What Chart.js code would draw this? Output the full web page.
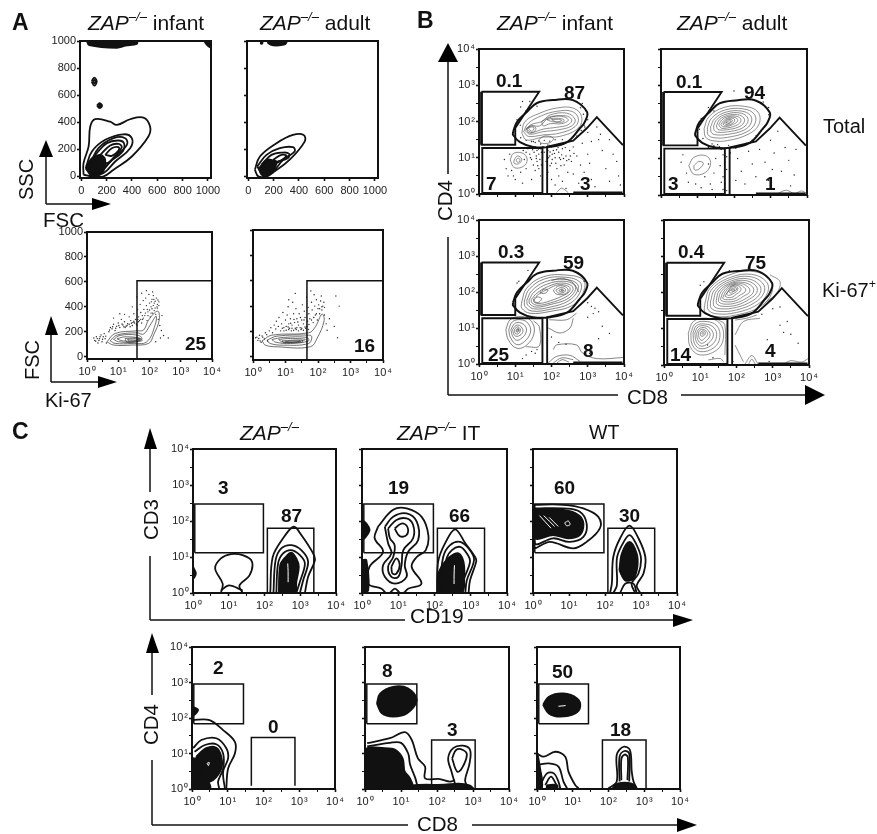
<!DOCTYPE html>
<html>
<head>
  <meta charset="utf-8">
  <title>ZAP flow cytometry panels</title>
  <script src="https://cdn.jsdelivr.net/npm/chart.js"></script>
  <style>
    html, body { margin: 0; padding: 0; background: #fff; }
    body { width: 877px; height: 834px; position: relative; overflow: hidden; font-family: "Liberation Sans", Arial, sans-serif; color: #111; }
    canvas { position: absolute; }
    svg { position: absolute; left: 0; top: 0; }
    .t { position: absolute; line-height: 1em; white-space: nowrap; }
    .t sup { font-size: 0.62em; line-height: 0; position: relative; top: -0.1em; vertical-align: super; }
    .pct { font-weight: bold; }
    .rot { transform-origin: 0 0; transform: rotate(-90deg); }
  </style>
</head>
<body>
  <svg id="arrows" width="877" height="834"></svg>

  <script>
    // axis ticks
    const linTicks = [0, 200, 400, 600, 800, 1000];
    const logMajor = [1, 10, 100, 1000, 10000];
    const logMinor = [3.16, 31.6, 316, 3160];
    const supDigits = ['\u2070', '\u00b9', '\u00b2', '\u00b3', '\u2074'];

    // contours below are flat x,y lists, log axes are written in decades

    // A top, SSC vs FSC
    const a1Rings = [
      [18,12, 18,98, 58,221, 71,368, 110,422, 228,404, 281,380, 386,422, 491,434, 543,368, 530,294, 399,147, 255,49, 176,0, 84,0],
      [39,74, 84,184, 189,270, 333,311, 399,282, 386,208, 268,110, 176,25, 84,12],
      [71,98, 136,208, 255,282, 346,282, 360,233, 255,135, 150,37, 71,37],
      [110,159, 202,245, 294,265, 339,240, 320,176, 228,110, 150,37],
      [150,159, 228,228, 294,240, 320,216, 281,167, 202,98],
      [189,159, 241,208, 294,216, 294,191, 241,152],
      [82,700, 102,730, 122,700, 102,670], [92,700, 102,712, 112,700, 102,688],
      [124,522, 144,540, 164,522, 144,505], [136,522, 144,530, 152,522, 144,514]
    ];
    const a1Fills = [
      [34,61, 84,135, 150,159, 189,123, 163,25, 84,5],
      [45,1000, 438,1000, 438,978, 350,965, 280,950, 62,970],
      [970,1000, 1020,1000, 1020,955, 995,968]
    ];
    const a2Rings = [
      [52,49, 92,147, 223,245, 353,306, 437,306, 445,257, 327,123, 209,37, 144,0, 79,0],
      [71,74, 144,159, 249,208, 353,216, 366,184, 275,123, 196,37, 118,12],
      [105,86, 183,159, 275,176, 322,167, 314,135, 223,98, 170,25],
      [196,123, 262,159, 301,152, 236,110]
    ];
    const a2Fills = [
      [86,61, 144,123, 196,118, 223,98, 183,25, 144,0, 105,12],
      [157,1000, 301,1000, 288,975, 196,968, 157,985],
      [100,1000, 110,1000, 110,980, 100,980]
    ];

    // A bottom, FSC vs Ki-67
    const a3Rings = [
      [.64,120, .9,187, 1.6,208, 1.81,214, 1.97,294, 2.26,366, 2.31,294, 2.13,174, 1.97,107, 1.44,94, .85,94],
      [.74,128, .96,174, 1.6,192, 1.81,182, 2.02,254, 2.21,326, 2.18,254, 1.91,120, 1.44,107, .9,107],
      [.85,139, 1.06,171, 1.6,174, 1.76,147, 1.54,120, 1.01,120],
      [.96,144, 1.22,160, 1.7,147, 1.49,128, 1.12,128],
      [1.22,147, 1.7,147, 1.76,128, 1.28,118],
      [1.3,140, 1.65,142, 1.7,132, 1.35,126]
    ];
    const a3Dots = [.25,130, .3,160, .35,110, .4,145, .45,175, .48,120, .55,185, .6,165, .62,110, .7,200, .72,215, .8,225, .85,260, .9,210, .95,245, 1,270, 1.05,235, 1.1,300, 1.15,255, 1.2,280, 1.22,235, 1.3,265, 1.35,320, 1.38,240, 1.4,290, 1.45,250, 1.5,345, 1.52,270, 1.55,300, 1.6,255, 1.62,380, 1.65,320, 1.68,290, 1.7,420, 1.72,355, 1.75,270, 1.78,300, 1.8,450, 1.82,380, 1.85,330, 1.88,470, 1.9,410, 1.92,290, 1.95,360, 1.98,500, 2,430, 2.02,320, 2.05,400, 2.08,460, 2.1,350, 2.12,490, 2.15,430, 2.18,390, 2.2,340, 2.22,470, 2.25,420, 2.28,300, 2.3,440, 2.33,250, 2.38,210, 2.4,330, 2.45,170, 2.35,150, 2.2,120, 2.6,150, 1.2,340, .85,310, 1.05,345, 1.45,400, 1.6,480, 1.75,510, 1.9,530, 2.1,520, 1.25,245, 1.35,260, 1.5,285, 1.65,280, 1.8,310, 1.95,330, 2.05,350, 2.15,370, 2.25,390,
      .75,235, .82,240, .92,228, 1.02,250, 1.12,262, 1.18,240, 1.28,250, 1.42,268, 1.47,275, 1.58,262, 1.63,300, 1.72,300, 1.77,330, 1.87,350, 1.93,380, 2,375, 2.08,385, 2.12,410, 2.18,445, 2.24,400, 2.27,455, 2.3,410, 2.14,460, 2.06,440, .28,125, .33,145, .38,130, .42,160, .5,140, .52,160, .58,145, .22,150];
    const a4Rings = [
      [.28,126, .58,171, 1.71,189, 1.92,237, 2.12,337, 2.19,287, 1.97,145, 1.76,79, .74,79, .38,92],
      [.43,132, .74,163, 1.71,171, 1.81,158, 1.71,105, .94,92, .53,105],
      [.58,137, .94,153, 1.66,153, 1.71,126, 1.15,105, .69,116],
      [.79,137, 1.15,145, 1.61,137, 1.25,116, .89,118],
      [.89,126, 1.51,132, 1.51,116, .94,113],
      [1,122, 1.45,126, 1.45,118, 1,117]
    ];
    const a4Dots = [.08,150, .15,130, .2,170, .25,115, .3,155, .38,190, .45,125, .5,205, .55,230, .6,190, .65,250, .7,220, .72,280, .78,240, .8,310, .85,205, .88,260, .92,350, .95,230, 1,290, 1.02,240, 1.05,330, 1.08,395, 1.1,260, 1.12,225, 1.15,300, 1.2,250, 1.22,430, 1.25,340, 1.28,270, 1.3,225, 1.32,380, 1.35,300, 1.4,250, 1.42,340, 1.45,230, 1.5,290, 1.52,410, 1.55,260, 1.58,360, 1.6,310, 1.62,225, 1.65,470, 1.68,280, 1.7,390, 1.72,340, 1.75,300, 1.78,520, 1.8,430, 1.82,370, 1.85,270, 1.88,490, 1.9,400, 1.92,330, 1.95,450, 1.98,290, 2,380, 2.02,410, 2.05,340, 2.08,440, 2.1,480, 2.12,370, 2.15,400, 2.18,430, 2.2,330, 2.25,260, 2.28,210, 2.35,300, 2.5,240, 2.6,150, 2.65,400, 2.55,480, 1.1,450, 1.3,500, .9,225, 1.1,215, 1.2,225, 1.35,230, 1.5,225, 1.7,215,
      .95,205, 1.02,210, 1.08,235, 1.18,205, 1.25,210, 1.33,215, 1.4,205, 1.48,215, 1.55,210, 1.6,235, 1.66,240, 1.72,255, 1.8,290, 1.87,310, 1.95,340, 2.05,380, 2.12,395, 2.2,390, .12,155, .18,145, .22,125, .28,165, .35,140, .42,175, 1.16,265, 1.26,295, 1.38,275, 1.46,310, 1.57,290];

    // B, CD4 vs CD8
    const b1Rings = [
      [1.18,1.68, 1.27,2, 1.68,2.23, 2.14,2.37, 2.6,2.37, 2.83,2.14, 2.74,1.82, 2.23,1.59, 1.77,1.57, 1.31,1.49],
      [1.23,1.72, 1.36,1.95, 1.73,2.16, 2.14,2.28, 2.56,2.28, 2.74,2.09, 2.65,1.86, 2.23,1.68, 1.77,1.63, 1.36,1.59],
      [1.27,1.75, 1.43,1.91, 1.73,2, 1.96,2.18, 2.42,2.23, 2.65,2.06, 2.56,1.88, 2.19,1.77, 1.77,1.72, 1.41,1.65],
      [1.31,1.79, 1.45,1.88, 1.68,1.88, 1.91,2.09, 2.37,2.16, 2.56,2.05, 2.46,1.91, 2.14,1.84, 1.77,1.79, 1.45,1.7],
      [1.31,1.82, 1.45,1.88, 1.57,1.82, 1.5,1.7, 1.36,1.7],
      [1.36,1.82, 1.45,1.85, 1.52,1.82, 1.45,1.73],
      [1.73,2, 2,2.14, 2.37,2.12, 2.46,2.03, 2.28,1.94, 1.96,1.94, 1.77,1.88],
      [1.87,2.05, 2.05,2.09, 2.33,2.06, 2.33,1.99, 2.05,1.99],
      [2,2.05, 2.19,2.06, 2.28,2.03, 2.14,1.99],
      [1.64,1.49, 1.82,1.6, 2.05,1.54, 1.96,1.42, 1.73,1.4],
      [.86,.94, .95,1.12, 1.22,1.12, 1.33,.94, 1.22,.76, .97,.73],
      [.97,.94, 1.06,1.05, 1.18,.96, 1.09,.83, .97,.85],
      [1.02,.94, 1.09,.99, 1.13,.92, 1.07,.87]
    ];
    const b1Open = [[2.14,.04, 2.28,.16, 2.46,.04]];
    const b1Dots = [1.55,1.3, 1.6,1.2, 1.65,1.1, 1.7,1.25, 1.75,1, 1.8,1.15, 1.85,.9, 1.9,1.2, 1.95,1.05, 2,.85, 2.05,1.2, 2.1,1, 2.15,.7, 2.2,1.15, 2.25,.95, 2.3,1.25, 2.35,.8, 2.4,1.05, 2.45,.6, 2.5,1.2, 2.55,.9, 2.6,1.3, 2.7,1.05, 2.8,.8, 2.85,1.4, 1.4,1.1, 1.45,.95, 1.5,.8, 1.35,1.25, 1.55,.65, 1.6,.9, 1.65,.7, 1.7,.5, 1.25,.95, .85,1.1, .9,.65, .95,.5, 1.15,.6, 1.3,.7, .7,.95, .75,.7, .8,.5, 1,.4, 1.2,.3, 1.45,.4, 1.9,.6, 2,.4, 2.1,.25, 2.2,.5, 2.3,.35, 2.4,.15, 2.6,.55, 2.75,.3, 2.9,.6, 3,1.1, 3.05,.85, 3.1,.4, 3.2,.2, 3.3,1.5, 3.4,1.2, 3.5,.7, 3.6,.35, 3.7,1.1, 3.85,.5, 3,1.7, 3.1,1.45, 3.25,1.85, 3.35,1.65, 3.6,1.5, 3.8,.9, 3.9,.25, 2.9,1.9, 2.95,2.3, 3,2.05, 2.85,2.5, 2.7,2.55, 1.05,2.05, 1,1.6, 1.15,2.4, 1.3,2.3, 1.2,2.55, 1.4,2.55, 1.45,1.45, 1.9,1.35, 2.2,1.38, 2,1.3, 1.7,1.38, 1.5,1.45, 1.58,1.05, 1.68,.95, 1.72,.8, 1.92,1, 2.02,1.1, 2.12,.85, 2.18,1.28, 2.28,1.08, 2.38,1.28, 2.48,.95, 1.52,1.15, 1.62,.78, 1.78,1.3, 1.88,1.05,
      1.48,1.22, 1.42,1, 1.3,1.15, 1.22,1.2, 1.58,.98, 1.64,1.24, 1.72,1.15, 1.96,1.16, 2.08,1.12, 2.14,1.22, 2.22,1, 2.33,.98, 2.42,.92, 2.52,1.05, 2.62,1.12, 2.02,.95, 1.96,.78, 2.26,.78, 1.75,1.3, 1.85,1.28, 1.95,1.34, 2.1,1.34, 2.3,1.38, 1.55,1.42, 1.65,1.46, 1.8,1.48, 1.95,1.46, 2.1,1.5, 2.3,1.5, 2.7,1.6, 2.82,1.75, 2.92,1.85, 2.88,2.2, 2.8,2.38, 1.3,1.48, 1.15,1.55, 1.4,2.36, 1.6,2.42, 1.14,1.9];
    const b2Rings = [
      [1.18,1.82, 1.31,2.14, 1.73,2.4, 2.28,2.43, 2.65,2.28, 2.69,1.95, 2.42,1.68, 1.82,1.49, 1.41,1.49, 1.22,1.59],
      [1.27,1.84, 1.39,2.11, 1.76,2.33, 2.25,2.36, 2.55,2.22, 2.58,1.97, 2.35,1.73, 1.82,1.58, 1.45,1.57, 1.29,1.65],
      [1.36,1.87, 1.47,2.09, 1.78,2.27, 2.2,2.3, 2.45,2.18, 2.47,1.98, 2.28,1.78, 1.82,1.66, 1.5,1.65, 1.38,1.71],
      [1.44,1.89, 1.53,2.07, 1.8,2.22, 2.15,2.25, 2.36,2.14, 2.37,1.98, 2.2,1.82, 1.82,1.73, 1.55,1.72, 1.46,1.77],
      [1.52,1.9, 1.6,2.06, 1.82,2.18, 2.1,2.2, 2.27,2.11, 2.27,1.98, 2.12,1.86, 1.82,1.79, 1.6,1.78, 1.54,1.82],
      [1.58,1.92, 1.66,2.05, 1.84,2.15, 2.05,2.16, 2.18,2.09, 2.17,1.99, 2.05,1.9, 1.83,1.84, 1.66,1.83],
      [1.64,1.93, 1.72,2.04, 1.85,2.12, 2.01,2.13, 2.1,2.07, 2.08,2, 1.97,1.93, 1.82,1.88, 1.7,1.87],
      [1.7,1.95, 1.78,2.05, 1.88,2.1, 1.98,2.1, 2.02,2.05, 1.98,1.98, 1.86,1.92, 1.74,1.9],
      [1.74,1.97, 1.82,2.05, 1.92,2.07, 1.96,2.03, 1.88,1.97, 1.78,1.93],
      [1.78,1.98, 1.86,2.03, 1.92,2.03, 1.86,1.97],
      [.76,.8, .9,1.03, 1.22,1.08, 1.36,.89, 1.22,.62, .9,.57],
      [.9,.8, 1.04,.92, 1.16,.87, 1.04,.71, .92,.69]
    ];
    const b2Open = [[3.2,.04, 3.43,.13, 3.66,.04, 3.84,.11, 4,.04]];
    const b2Dots = [1.05,1.8, 1.1,2.1, 1.15,1.55, 1.3,2.4, 1.45,2.3, 1,1.6, 1.3,1.3, 1.45,1.35, 1.6,1.32, 1.75,1.28, 1.9,1.3, 2.05,1.28, 2.2,1.38, 2.35,1.42, 2.5,1.5, 2.7,1.7, 2.85,1.9, 2.95,2.2, 2.95,2.4, 2.8,2.55, 2,2.85, 1.65,1.25, 1.7,1.1, 1.75,.9, 1.8,.7, 1.7,.5, 1.75,.3, 1.8,.12, 1.62,.8, 1.65,.35, 1.8,1.05, 1.7,.15, .55,.9, .6,1.1, .7,.6, .75,.35, .95,.3, 1.2,.5, 1.3,.85, 1.35,.3, 1.4,.15, 1.1,.2, 1.45,.6, 1.5,1, 2.1,1, 2.2,.65, 2.3,.3, 2.4,1.2, 2.5,.85, 2.6,.5, 2.7,1.25, 2.85,.9, 2.95,.4, 3,1.5, 3.1,1.15, 3.2,1.75, 3.3,.65, 3.4,1.3, 3.5,.95, 3.55,.25, 3.65,.55, 3.7,1.25, 2.05,.4, 1.9,1.15, 3.05,.7, 1.4,1.4, 1.55,1.38, 1.85,1.36, 2.1,1.34, 2.3,1.36, 2.6,1.62, 2.78,1.8];
    const b3Rings = [
      [1.18,1.73, 1.31,2.1, 1.77,2.42, 2.41,2.47, 2.88,2.33, 2.88,2, 2.6,1.64, 1.96,1.46, 1.41,1.41, 1.18,1.55],
      [1.25,1.75, 1.38,2.07, 1.8,2.36, 2.38,2.41, 2.78,2.28, 2.8,2.02, 2.52,1.69, 1.96,1.52, 1.47,1.47, 1.27,1.6],
      [1.32,1.77, 1.45,2.03, 1.84,2.29, 2.35,2.35, 2.7,2.24, 2.72,2.03, 2.46,1.75, 1.96,1.58, 1.53,1.53, 1.34,1.64],
      [1.38,1.78, 1.52,2, 1.88,2.22, 2.32,2.3, 2.63,2.2, 2.65,2.03, 2.42,1.8, 1.96,1.65, 1.58,1.58, 1.4,1.67],
      [1.44,1.79, 1.6,1.97, 1.9,2.15, 2.25,2.25, 2.56,2.17, 2.58,2.03, 2.37,1.85, 1.98,1.7, 1.62,1.63, 1.46,1.7],
      [1.5,1.8, 1.65,1.94, 1.92,2.09, 2.18,2.2, 2.48,2.15, 2.5,2.02, 2.32,1.9, 1.98,1.76, 1.66,1.68, 1.52,1.72],
      [1.52,1.78, 1.6,1.86, 1.72,1.82, 1.66,1.72, 1.55,1.72],
      [1.68,1.98, 1.8,2.08, 1.9,2.04, 1.8,1.96],
      [2.05,2.05, 2.2,2.17, 2.42,2.12, 2.45,2, 2.3,1.93, 2.12,1.95],
      [2.12,2.05, 2.25,2.12, 2.38,2.08, 2.36,2, 2.2,1.97],
      [2.2,2.04, 2.28,2.08, 2.34,2.04, 2.28,2],
      [2.26,2.04, 2.3,2.06, 2.31,2.03],
      [.74,.95, .86,1.23, 1.18,1.32, 1.45,1.18, 1.52,.86, 1.32,.53, 1.04,.44, .81,.67],
      [.82,.95, .92,1.17, 1.16,1.23, 1.36,1.12, 1.42,.88, 1.25,.62, 1.04,.54, .87,.73],
      [.88,.95, .98,1.12, 1.12,1.15, 1.28,1.05, 1.3,.88, 1.18,.72, 1.04,.66, .93,.77],
      [.93,.96, 1.02,1.07, 1.12,1.07, 1.2,.98, 1.2,.87, 1.1,.78, 1,.78, .95,.85],
      [.98,.96, 1.05,1.03, 1.12,1, 1.14,.92, 1.08,.84, 1,.85],
      [1.03,.96, 1.08,.99, 1.11,.94, 1.07,.89, 1.03,.9],
      [1.05,.95, 1.08,.97, 1.09,.93, 1.06,.91]
    ];
    const b3Open = [
      [2,2.32, 2.3,2.38, 2.6,2.25, 2.75,2], [1.5,1.2, 1.66,1.04, 1.66,.5, 1.3,.48],
      [1.94,1.23, 2.42,1.23, 2.69,1.41], [1.91,1, 2.23,.86, 2.51,1, 2.6,1.27],
      [2.05,.4, 2.14,.53, 2.69,.53, 2.86,.3, 3.25,.15, 3.98,.18],
      [1.91,.03, 2.14,.21, 2.51,.24, 2.79,.07], [2.05,.03, 2.28,.17, 2.6,.12], [2.15,.03, 2.3,.12, 2.48,.05]
    ];
    const b3Dots = [1.45,.35, 1.3,.25, 1.2,.15, .35,.4, 1.55,.3, 2,.75, 2.2,.6, 2.4,.55, 3,1.7, 3.1,1.6, 3.2,1.55, 3.3,1.45, 3.15,1.4, 3.4,1.05, 3.6,.85, 3.3,.7, 3.05,.3, 1.1,2.3, 1.05,2.25, 1.35,2.6, 2.9,2.3, 3,1.3, 1.6,.4];
    const b4Rings = [
      [1.13,1.71, 1.27,2.12, 1.82,2.49, 2.46,2.58, 2.92,2.35, 2.97,1.98, 2.65,1.61, 2,1.38, 1.41,1.34, 1.13,1.47],
      [1.2,1.72, 1.33,2.1, 1.84,2.42, 2.42,2.5, 2.82,2.3, 2.86,2, 2.58,1.67, 2,1.45, 1.46,1.41, 1.22,1.52],
      [1.28,1.74, 1.4,2.08, 1.85,2.37, 2.36,2.44, 2.72,2.26, 2.76,2, 2.5,1.72, 2,1.52, 1.52,1.48, 1.3,1.57],
      [1.36,1.76, 1.46,2.06, 1.86,2.32, 2.3,2.38, 2.62,2.22, 2.66,2, 2.44,1.77, 2,1.59, 1.57,1.55, 1.38,1.62],
      [1.44,1.78, 1.52,2.04, 1.87,2.28, 2.24,2.33, 2.53,2.19, 2.56,2, 2.36,1.82, 2,1.65, 1.62,1.62, 1.46,1.68],
      [1.5,1.8, 1.58,2.03, 1.87,2.25, 2.18,2.28, 2.44,2.16, 2.46,2, 2.3,1.86, 1.98,1.71, 1.67,1.68, 1.52,1.73],
      [1.56,1.82, 1.64,2.02, 1.87,2.22, 2.12,2.25, 2.34,2.13, 2.36,2.01, 2.2,1.9, 1.97,1.77, 1.72,1.74, 1.58,1.78],
      [1.62,1.85, 1.7,2.02, 1.87,2.19, 2.06,2.22, 2.24,2.11, 2.24,2.02, 2.1,1.93, 1.95,1.83, 1.77,1.8, 1.64,1.82],
      [1.68,1.9, 1.76,2.02, 1.87,2.17, 2,2.2, 2.12,2.12, 2.1,2.03, 2,1.96, 1.9,1.88, 1.76,1.86],
      [1.72,1.96, 1.8,2.06, 1.9,2.16, 2,2.16, 2.04,2.1, 2,2.03, 1.9,1.96, 1.78,1.92],
      [1.8,2.02, 1.88,2.1, 1.98,2.13, 2,2.08, 1.92,2.03, 1.84,1.98],
      [1.86,2.05, 1.93,2.09, 1.96,2.07, 1.9,2.03],
      [.67,.88, .81,1.2, 1.18,1.29, 1.54,1.15, 1.64,.74, 1.45,.41, .99,.28, .72,.51],
      [.74,.88, .86,1.14, 1.16,1.2, 1.46,1.08, 1.54,.76, 1.38,.48, 1,.37, .78,.56],
      [.8,.88, .9,1.09, 1.14,1.13, 1.38,1.03, 1.45,.78, 1.3,.54, 1,.45, .84,.6],
      [.85,.88, .94,1.05, 1.13,1.08, 1.3,.98, 1.36,.8, 1.22,.6, 1.02,.52, .89,.65],
      [.9,.88, .97,1, 1.12,1.03, 1.23,.94, 1.27,.82, 1.17,.67, 1.03,.6, .93,.7],
      [.95,.88, 1,.97, 1.1,.98, 1.18,.92, 1.2,.84, 1.12,.74, 1.04,.68, .97,.75],
      [1,.88, 1.05,.94, 1.12,.93, 1.14,.86, 1.08,.8, 1.02,.8],
      [1.04,.88, 1.08,.91, 1.1,.87, 1.07,.84]
    ];
    const b4Open = [
      [2.92,2.49, 3.2,2.3, 3.11,1.98, 2.83,1.75], [1.5,1.24, 1.68,1.11, 1.68,.28],
      [1.96,1.24, 2.28,1.29, 2.56,1.38], [1.96,.83, 2.19,1.2, 2.65,1.29], [1.96,.55, 2.05,.37, 2.19,.09],
      [2.23,.02, 2.42,.26, 2.6,.02], [2.33,.02, 2.42,.16, 2.52,.02], [3.3,.03, 3.5,.12, 3.8,.08, 3.98,.18], [1.22,.14, 1.55,.18, 1.64,.09]
    ];
    const b4Dots = [1,2.2, 1.1,2.3, 1.2,.55, 1.35,.2, 3,1.55, 3.2,1.6, 3.4,1.2, 3.5,.85, 3.2,1.1, 3.3,.9, 2.85,.7, 3,.45, 3.7,.6, 2.5,1.5, 2.7,1.4, 1.8,2.6, 2.9,.1, 1.9,.1];

    // B gates, same in all four plots
    const bGateUpper = [.07,2.82, 1.66,2.82, 1,1.82, 1,1.36, .07,1.36, .07,2.82];
    const bGateBox = [.09,.03, .09,1.27, 1.75,1.27, 1.75,.03, .09,.03];
    const bGateCd8 = [1.88,.03, 1.88,1.3, 2.6,1.47, 2.98,1.82, 3.25,2.12, 3.97,1.35];
    const bGateEllipse = [.94,1.71, 1.05,1.99, 1.32,2.26, 1.6,2.51, 2.04,2.59, 2.59,2.59, 2.98,2.26, 2.92,1.99, 2.79,1.82, 2.43,1.43, 1.96,1.3, 1.49,1.3, 1.13,1.43, .94,1.63];
    const bEdgeBottom = [2.6,.03, 3.96,.03];
    const bEdgeLeft = [.07,1.36, .07,2.82];

    // C top, CD3 vs CD19
    const cTopGateCd3 = [.05,1.12, .05,2.47, 1.97,2.47, 1.97,1.12, .05,1.12];
    const cTopGateCd19 = [2.08,.02, 2.08,1.8, 3.38,1.8, 3.38,.02];
    const c1Open = [
      [.78,0, .83,.26, .62,.68, .78,.96, 1.06,1.08, 1.39,1.05, 1.65,.87, 1.58,.49, 1.3,.21, 1.39,0],
      [.78,.07, 1.01,.21, 1.39,.07],
      [2.16,0, 2.23,1, 2.52,1.52, 2.82,1.84, 3.03,1.61, 3.36,1.1, 3.41,.91, 3.22,.45, 3.13,0],
      [2.25,0, 2.31,.91, 2.47,1.24, 2.75,1.33, 3.03,1.19, 3.22,.87, 3.08,.35, 2.99,0],
      [2.33,0, 2.38,.82, 2.52,1.1, 2.75,1.19, 2.99,1.05, 3.13,.82, 2.99,.31, 2.89,0]
    ];
    const c1Fills = [
      [0,.73, .08,.54, 0,.4],
      [2.4,0, 2.44,.77, 2.59,1, 2.75,1.12, 2.89,.96, 2.96,.73, 2.89,.31, 2.85,0]
    ];
    const c1White = [[2.65,.82, 2.66,.6, 2.66,.3]];
    const c2Rings = [
      [.44,1.84, .86,2.31, 1.23,2.35, 1.64,2.12, 1.83,1.61, 1.76,1.19, 1.51,1, 1.37,.73, 1.64,.26, 1.27,.12, 1.14,0, .67,0, .54,.12, .17,.26, .21,.73, .58,1.14, .35,1.52],
      [.63,1.84, .86,2.12, 1.23,2.21, 1.51,1.98, 1.55,1.47, 1.27,1.14, 1.18,.77, 1.23,.45, .91,.26, .63,.45, .58,.77, .81,1.1, .72,1.38],
      [.72,1.79, .95,2.03, 1.23,2.07, 1.41,1.89, 1.41,1.52, 1.14,1.19, 1.09,.77, 1,.45, .81,.45, .72,.73, .86,1, .9,1.33, .77,1.52],
      [.9,1.79, 1.09,1.93, 1.25,1.84, 1.23,1.61, 1.04,1.58],
      [.81,.73, .95,.96, 1.04,.77, .95,.54, .84,.54]
    ];
    const c2Open = [
      [2.07,0, 2.1,.87, 2.29,1.38, 2.57,1.77, 2.85,1.38, 3.12,1, 3.15,.87, 2.98,.35, 2.94,0],
      [2.13,0, 2.24,1, 2.43,1.33, 2.71,1.42, 2.98,1.19, 3.09,.91, 2.89,.35, 2.85,0],
      [2.22,0, 2.32,.91, 2.48,1.19, 2.71,1.28, 2.89,1.1, 2.98,.87, 2.8,.35, 2.75,0],
      [.77,0, .91,.12, 1.04,0]
    ];
    const c2Fills = [
      [0,2.03, .12,1.93, .21,1.75, .07,1.52, 0,1.52],
      [0,.91, .12,.91, .17,.07, 0,.03],
      [2.08,0, 2.11,.54, 2.29,.87, 2.48,1.05, 2.66,1.1, 2.8,.87, 2.82,.45, 2.75,0]
    ];
    const c2White = [[2.4,1.05, 2.65,1.17, 2.85,1], [2.55,.77, 2.54,.5, 2.54,.25]];
    const c3Rings = [
      [.02,2.45, .84,2.45, 1.4,2.35, 1.81,2.12, 1.86,1.8, 1.49,1.42, 1.12,1.24, .47,1.42, .02,1.28],
      [.05,2.35, .84,2.35, 1.3,2.26, 1.49,1.93, 1.4,1.56, 1.02,1.42, .56,1.52, .05,1.38]
    ];
    const c3Open = [
      [2.14,0, 2.19,.26, 2.23,1, 2.42,1.52, 2.68,1.87, 2.93,1.52, 3.12,1, 3.07,.54, 2.88,.21, 2.98,0],
      [2.23,0, 2.33,.21, 2.33,.96, 2.47,1.33, 2.68,1.61, 2.88,1.33, 3,.96, 2.93,.54, 2.74,.26, 2.84,0],
      [2.42,0, 2.56,.26, 2.79,.26, 2.88,0]
    ];
    const c3Fills = [
      [.05,2.31, .84,2.31, 1.26,2.17, 1.4,1.93, 1.3,1.61, .98,1.52, .56,1.61, .05,1.52],
      [2.4,.63, 2.47,1.1, 2.68,1.42, 2.88,1.1, 2.9,.73, 2.79,.4, 2.56,.35]
    ];
    const c3White = [[.88,1.95, .98,2, 1.03,1.9, .93,1.87, .88,1.95], [.18,2.15, .5,1.8], [.3,2.15, .6,1.85], [.45,2.1, .7,1.85]];

    // C bottom, CD4 vs CD8
    const cLowGateCd4 = [.05,1.84, .05,2.96, 1.44,2.96, 1.44,1.84, .05,1.84];
    const c4GateCd8 = [1.66,.09, 1.66,1.45, 2.88,1.45, 2.88,.09];
    const c5GateCd8 = [1.85,.02, 1.85,1.38, 3.06,1.38, 3.06,.02];
    const c6GateCd8 = [1.83,.02, 1.83,1.38, 3.05,1.38, 3.05,.02];
    const c4Open = [
      [0,1.94, .49,1.94, .87,1.66, 1.2,1.33, 1.2,1, 1.01,.58, .96,.02],
      [.03,1.15, .26,1.38, .68,1.43, .96,1.15, 1.01,.86, .87,.49, .92,.02],
      [.07,1.05, .36,1.24, .68,1.26, .87,1, .87,.58, .73,.21, .76,.02]
    ];
    const c4Fills = [
      [.12,.91, .4,1.15, .68,1.16, .82,.91, .82,.58, .59,.25, .36,.21, .12,.4],
      [0,0, .03,.86, .26,.58, .33,.21, .45,.21, .5,.02],
      [0,2.32, .17,2.23, .03,2.08]
    ];
    const c4White = [[.42,.72, .48,.75, .46,.66, .42,.72]];
    const c5Open = [
      [.06,1.29, .69,1.43, 1.11,1.6, 1.3,1.38, 1.47,.86, 1.67,.63, 1.67,.3, 2.08,.28, 2.36,.21, 2.5,.25],
      [.06,1.2, .69,1.3, 1,1.3, 1.2,1, 1.25,.7, 1.4,.3, 1.45,.1],
      [2.5,.15, 2.4,.5, 2.31,.86, 2.45,1.15, 2.72,1.22, 2.92,1.1, 2.9,.7, 2.78,.25, 2.85,.05]
    ];
    const c5Rings = [[2.42,.86, 2.53,1.1, 2.72,1.1, 2.83,.96, 2.69,.58, 2.56,.49]];
    const c5Fills = [
      [.33,2.41, .42,2.69, .78,2.88, 1.19,2.84, 1.44,2.51, 1.17,2.13, .78,2.04, .47,2.13],
      [0,0, 0,1.1, .55,1.15, .85,1.1, 1.05,.85, 1.1,.5, 1.25,.3, 1.3,.05],
      [1.3,0, 3,0, 2.9,.1, 2.6,.15, 2.2,.12, 1.3,.1]
    ];
    const c6Open = [
      [0,1, .19,.91, .51,1.05, .79,.91, .88,.49, 1.07,.11, 1.16,.02],
      [.02,.68, .33,.72, .6,.63, .74,.21, .84,.02],
      [.09,.11, .28,.44, .47,.44, .6,.21, .65,.02],
      [.23,.11, .39,.35, .54,.13],
      [0,.4, .1,.45, .15,.1],
      [2,.02, 2.23,.21, 2.23,.96, 2.42,1.19, 2.6,1.1, 2.65,.49, 2.7,.21, 2.79,.02],
      [2.31,.21, 2.31,.91, 2.44,1.07, 2.58,1, 2.58,.21],
      [2.36,.25, 2.36,.85, 2.45,.97, 2.54,.9, 2.53,.25]
    ];
    const c6Fills = [
      [.17,2.37, .33,2.6, .74,2.69, 1.12,2.55, 1.21,2.32, 1.07,2.13, .65,2.04, .33,2.13],
      [0,0, 0,1, .07,.68, .14,.02],
      [.28,.11, .56,.11, .56,.02, .28,.02],
      [2.1,0, 2.75,0, 2.65,.15, 2.25,.15]
    ];
    const c6White = [[.6,2.33, .8,2.35]];

    // panel layout: plot box is left, top, width, height in page pixels
    const LIN_X = { min: -10, max: 1024 };
    const C_RING = 1.8;
    const panels = [
      { box: [80, 41, 131, 137], x: LIN_X, y: { min: -12, max: 1000 }, xText: true, yText: true, rings: a1Rings, fills: a1Fills, ringW: 1.8 },
      { box: [247, 41, 131, 137], x: LIN_X, y: { min: -12, max: 1000 }, xText: true, rings: a2Rings, fills: a2Fills, ringW: 1.8 },
      { box: [87, 232, 125, 127], logX: true, y: { min: -18, max: 1000 }, xText: true, yText: true, rings: a3Rings, dots: a3Dots, ringW: .7, ringC: '#333', gates: [[1.6,-18, 1.6,610, 4,610]], gateW: 1.5 },
      { box: [253, 230, 130, 130], logX: true, y: { min: -25, max: 1000 }, xText: true, rings: a4Rings, dots: a4Dots, ringW: .7, ringC: '#333', gates: [[1.66,-25, 1.66,600, 4,600]], gateW: 1.5 },

      { box: [479, 49, 145, 145], logX: true, logY: true, yText: true, rings: b1Rings, open: b1Open, dots: b1Dots, ringW: .6, ringC: '#444', bGates: true, edges: [bEdgeBottom, bEdgeLeft] },
      { box: [661, 49, 146, 146], logX: true, logY: true, rings: b2Rings, open: b2Open, dots: b2Dots, ringW: .6, ringC: '#444', bGates: true, edges: [bEdgeBottom, bEdgeLeft] },
      { box: [479, 220, 145, 144], logX: true, logY: true, xText: true, yText: true, rings: b3Rings, open: b3Open, dots: b3Dots, ringW: .6, ringC: '#333', bGates: true, edges: [bEdgeBottom, bEdgeLeft] },
      { box: [664, 220, 145, 145], logX: true, logY: true, xText: true, rings: b4Rings, open: b4Open, dots: b4Dots, ringW: .6, ringC: '#444', bGates: true, edges: [bEdgeBottom, bEdgeLeft] },

      { box: [193, 449, 143, 144], logX: true, logY: true, xText: true, yText: true, open: c1Open, fills: c1Fills, white: c1White, ringW: C_RING, gates: [cTopGateCd3, cTopGateCd19], gateW: 1.5 },
      { box: [362, 449, 145, 144], logX: true, logY: true, xText: true, rings: c2Rings, open: c2Open, fills: c2Fills, white: c2White, ringW: C_RING, gates: [cTopGateCd3, cTopGateCd19], gateW: 1.5 },
      { box: [533, 449, 144, 144], logX: true, logY: true, xText: true, rings: c3Rings, open: c3Open, fills: c3Fills, white: c3White, ringW: C_RING, gates: [cTopGateCd3, cTopGateCd19], gateW: 1.5 },
      { box: [192, 647, 143, 142], logX: true, logY: true, xText: true, yText: true, open: c4Open, fills: c4Fills, white: c4White, ringW: C_RING, gates: [cLowGateCd4, c4GateCd8], gateW: 1.5 },
      { box: [365, 647, 144, 142], logX: true, logY: true, xText: true, rings: c5Rings, open: c5Open, fills: c5Fills, ringW: C_RING, gates: [cLowGateCd4, c5GateCd8], gateW: 1.5 },
      { box: [537, 647, 143, 142], logX: true, logY: true, xText: true, open: c6Open, fills: c6Fills, white: c6White, ringW: C_RING, gates: [cLowGateCd4, c6GateCd8], gateW: 1.5 }
    ];

    const M = { left: 34, right: 16, top: 8, bottom: 20 };

    const framePlugin = {
      id: 'frame',
      afterDatasetsDraw(chart) {
        const a = chart.chartArea, c = chart.ctx;
        c.save();
        c.strokeStyle = '#111';
        c.lineWidth = 2;
        c.strokeRect(a.left, a.top, a.right - a.left, a.bottom - a.top);
        c.restore();
      }
    };

    function toPoints(flat, p, closed) {
      const pts = [];
      for (let i = 0; i < flat.length; i += 2) {
        pts.push({ x: p.logX ? 10 ** flat[i] : flat[i], y: p.logY ? 10 ** flat[i + 1] : flat[i + 1] });
      }
      if (closed) pts.push(pts[0]);
      return pts;
    }

    function lineSet(flat, p, opts) {
      return Object.assign({
        data: toPoints(flat, p, opts.closed),
        showLine: true, pointRadius: 0, borderColor: '#111', backgroundColor: '#111',
        borderWidth: 1, tension: 0, fill: false
      }, opts);
    }

    function axis(log, range, isX, showText) {
      const values = log ? logMajor.concat(logMinor) : linTicks;
      return {
        type: log ? 'logarithmic' : 'linear',
        min: log ? 1 : range.min,
        max: log ? 10000 : range.max,
        border: { display: false },
        grid: {
          drawOnChartArea: false, drawTicks: true, tickLength: 3, tickColor: '#111',
          tickWidth: ctx => (log && logMinor.includes(ctx.tick && ctx.tick.value) ? 1 : 1.6)
        },
        ticks: {
          autoSkip: false, maxRotation: 0, minRotation: 0, padding: isX ? 3 : 1, color: '#222',
          font: { family: '"Liberation Sans", Arial, sans-serif', size: 11 },
          callback(v) {
            if (!showText) return '';
            if (!log) return String(v);
            return logMajor.includes(v) ? '10\u200a' + supDigits[logMajor.indexOf(v)] : '';
          }
        },
        afterBuildTicks(s) { s.ticks = values.map(v => ({ value: v })); },
        afterFit(s) {
          if (isX) s.height = M.bottom; else s.width = M.left;
        }
      };
    }

    panels.forEach(p => {
      const [px, py, pw, ph] = p.box;
      const cv = document.createElement('canvas');
      const w = pw + M.left + M.right, h = ph + M.top + M.bottom;
      cv.width = w; cv.height = h;
      cv.style.left = (px - M.left) + 'px';
      cv.style.top = (py - M.top) + 'px';
      cv.style.width = w + 'px';
      cv.style.height = h + 'px';
      document.body.appendChild(cv);

      // paint order, first is at the back
      const sets = [];
      const ringColor = p.ringC || '#111';
      (p.dots ? [p.dots] : []).forEach(d => sets.push({
        data: toPoints(d, p), showLine: false, pointRadius: .7, pointBorderWidth: 0,
        pointBackgroundColor: '#222', borderColor: '#222'
      }));
      (p.fills || []).forEach(f => sets.push(lineSet(f, p, { closed: true, tension: .35, fill: 'shape', borderWidth: p.ringW })));
      (p.rings || []).forEach(r => sets.push(lineSet(r, p, { closed: true, tension: .4, borderWidth: p.ringW, borderColor: ringColor })));
      (p.open || []).forEach(r => sets.push(lineSet(r, p, { tension: .35, borderWidth: p.ringW, borderColor: ringColor })));
      (p.white || []).forEach(r => sets.push(lineSet(r, p, { tension: .3, borderWidth: 1, borderColor: '#fff' })));
      (p.gates || []).forEach(g => sets.push(lineSet(g, p, { borderWidth: p.gateW })));
      if (p.bGates) {
        [bGateUpper, bGateBox, bGateCd8].forEach(g => sets.push(lineSet(g, p, { borderWidth: 1.9 })));
        sets.push(lineSet(bGateEllipse, p, { closed: true, tension: .4, borderWidth: 2 }));
        p.edges.forEach(g => sets.push(lineSet(g, p, { borderWidth: 2.6 })));
      }

      new Chart(cv, {
        type: 'scatter',
        data: { datasets: sets.reverse() },
        plugins: [framePlugin],
        options: {
          responsive: false, animation: false, devicePixelRatio: 1,
          layout: { padding: { top: M.top, right: M.right, left: 0, bottom: 0 } },
          plugins: { legend: { display: false }, tooltip: { enabled: false } },
          scales: {
            x: axis(p.logX, p.x, true, p.xText),
            y: axis(p.logY, p.y, false, p.yText)
          }
        }
      });
    });

    // text: string or html, left edge, baseline, font size
    const HEAD_SIZE = 21, PCT_SIZE = 19;
    const zapHead = '<i>ZAP<sup>\u2013/\u2013</sup></i>';
    const headings = [
      [zapHead + ' infant', 88, 30, HEAD_SIZE], [zapHead + ' adult', 260, 30, HEAD_SIZE],
      [zapHead + ' infant', 497, 30, HEAD_SIZE], [zapHead + ' adult', 677, 30, HEAD_SIZE],
      [zapHead, 240, 440, HEAD_SIZE], [zapHead + ' IT', 397, 440, HEAD_SIZE], ['WT', 589, 440, 19.5],
      ['Total', 823, 133, 20], ['Ki-67<sup>+</sup>', 822, 297, 20]
    ];
    const panelLetters = [['A', 12, 30], ['B', 417, 28], ['C', 12, 439]];
    const axisLabels = [['FSC', 43, 227, 20.5], ['Ki-67', 45, 407, 20], ['CD8', 627, 404, 20.5], ['CD19', 410, 623, 21], ['CD8', 417, 831, 20.5]];
    const axisLabelsRot = [['SSC', 33, 200, 20], ['FSC', 39, 380, 20], ['CD4', 452, 221, 20.5], ['CD3', 158, 540, 20.5], ['CD4', 158, 745, 20.5]];
    const gatePercents = [
      ['25', 185, 350], ['16', 354, 352],
      ['0.1', 496, 87], ['87', 564, 99], ['7', 486, 190], ['3', 580, 190],
      ['0.1', 676, 88], ['94', 744, 99], ['3', 668, 190], ['1', 765, 190],
      ['0.3', 498, 258], ['59', 563, 269], ['25', 488, 361], ['8', 583, 357],
      ['0.4', 678, 258], ['75', 745, 269], ['14', 670, 361], ['4', 765, 357],
      ['3', 218, 494], ['87', 281, 522], ['19', 388, 494], ['66', 449, 522], ['60', 554, 494], ['30', 619, 522],
      ['2', 213, 674], ['0', 268, 733], ['8', 382, 677], ['3', 447, 736], ['50', 552, 678], ['18', 610, 736]
    ];

    function addText(html, x, base, size, cls) {
      const d = document.createElement('div');
      d.className = 't ' + (cls || '');
      d.innerHTML = html;
      d.style.fontSize = size + 'px';
      d.style.left = x + 'px';
      d.style.top = (base - 0.8465 * size) + 'px';
      document.body.appendChild(d);
    }
    headings.forEach(h => addText(h[0], h[1], h[2], h[3]));
    panelLetters.forEach(l => addText(l[0], l[1], l[2], 23, 'pct'));
    axisLabels.forEach(l => addText(l[0], l[1], l[2], l[3]));
    gatePercents.forEach(g => addText(g[0], g[1], g[2], PCT_SIZE, 'pct'));
    axisLabelsRot.forEach(l => {
      const d = document.createElement('div');
      d.className = 't rot';
      d.textContent = l[0];
      d.style.fontSize = l[3] + 'px';
      d.style.left = (l[1] - 0.8465 * l[3]) + 'px';
      d.style.top = l[2] + 'px';
      document.body.appendChild(d);
    });

    // axis arrows, shaft segments then heads
    const arrowShafts = [
      [46,157, 46,204], [46,204, 92,204], [51,335, 51,382], [51,382, 98,382],
      [448,62, 448,174], [448,237, 448,395], [448,395, 618,395], [681,395, 805,395],
      [150,449, 150,492], [150,556, 150,620], [150,620, 405,620], [468,620, 673,620],
      [152,653, 152,695], [152,760, 152,825], [152,825, 408,825], [472,825, 677,825]
    ];
    const arrowHeads = [
      '39,157 53,157 46,140', '92,198 92,210 111,204', '45,335 58,335 51,316', '98,376 98,388 117,382',
      '438,62 458,62 448,43', '805,385 805,405 825,395', '144,449 157,449 150,428', '673,614 673,627 693,620',
      '146,653 159,653 152,633', '677,818 677,832 697,825'
    ];
    const svg = document.getElementById('arrows');
    svg.innerHTML = arrowShafts.map(s => `<line x1="${s[0]}" y1="${s[1]}" x2="${s[2]}" y2="${s[3]}" stroke="#111" stroke-width="1.5"/>`).join('')
      + arrowHeads.map(h => `<polygon points="${h}" fill="#000"/>`).join('');
  </script>
</body>
</html>
